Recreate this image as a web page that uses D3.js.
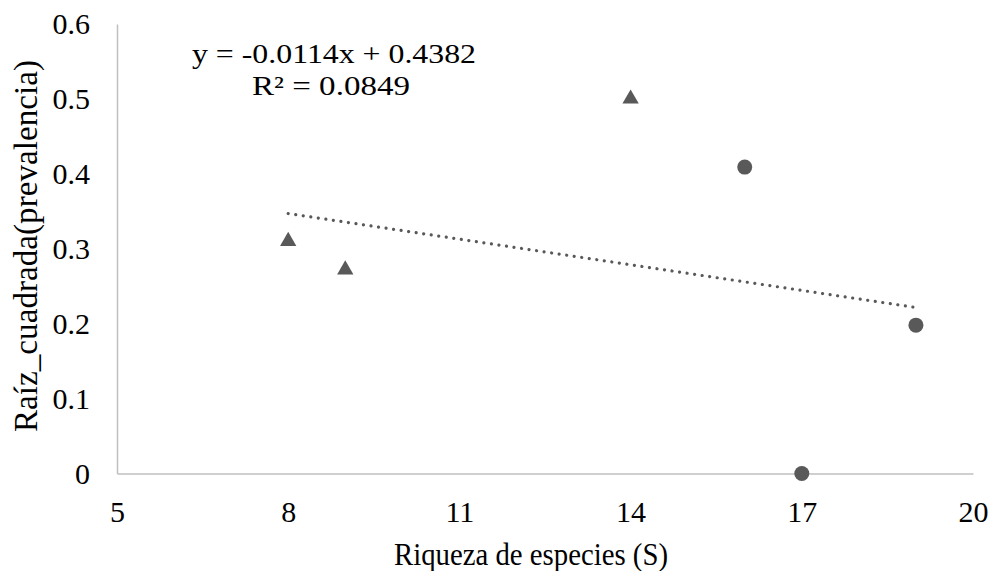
<!DOCTYPE html>
<html><head><meta charset="utf-8">
<script src="https://cdn.jsdelivr.net/npm/d3@7"></script>
<style>body{margin:0;background:#fff;} text{font-family:"Liberation Serif","Times New Roman",serif;fill:#000;}</style>
</head><body>
<svg id="c" width="991" height="571"></svg>
<script>
const triX = [8, 9, 14];
const triY = [0.31, 0.272, 0.50];
const cirX = [16, 17, 19];
const cirY = [0.409, 0.0, 0.198];
const xTicks = [5, 8, 11, 14, 17, 20];
const yTicks = [0, 0.1, 0.2, 0.3, 0.4, 0.5, 0.6];
const slope = -0.0114, intercept = 0.4382;
const trendX = [8, 19];
const eqLines = ["y = -0.0114x + 0.4382", "R² = 0.0849"];
const xTitle = "Riqueza de especies (S)";
const yTitle = "Raíz_cuadrada(prevalencia)";

const svg = d3.select("#c");
const x = d3.scaleLinear().domain([5, 20]).range([117, 973]);
const y = d3.scaleLinear().domain([0, 0.6]).range([473.5, 24]);
const fs = 30;

// axes
const xAxis = svg.append("g").attr("transform", `translate(0,${y(0)})`)
  .call(d3.axisBottom(x).tickValues(xTicks).tickSize(0).tickPadding(38).tickFormat(d3.format("d")));
const yAxis = svg.append("g").attr("transform", `translate(${x(5)},0)`)
  .call(d3.axisLeft(y).tickValues(yTicks).tickSize(0).tickPadding(27).tickFormat(d => d === 0 ? "0" : d3.format(".1f")(d)));
[xAxis, yAxis].forEach(g => {
  g.select(".domain").attr("stroke", "#bfbfbf").attr("stroke-width", 1.5);
  g.selectAll("text").style("font-family", '"Liberation Serif",serif').style("font-size", fs + "px").attr("fill", "#000");
});
xAxis.selectAll("text").attr("dy", "0.35em");

// trendline
svg.append("path")
  .attr("d", d3.line().x(d => x(d)).y(d => y(slope * d + intercept))(trendX))
  .attr("fill", "none").attr("stroke", "#595959").attr("stroke-width", 3.2)
  .attr("stroke-linecap", "round").attr("stroke-dasharray", "0.01 7.6");

// markers
const tri = d3.symbol().type(d3.symbolTriangle).size(115);
svg.selectAll(".tri").data(triX.map((v, i) => [v, triY[i]])).join("path")
  .attr("transform", d => `translate(${x(d[0])},${y(d[1])})`)
  .attr("d", tri).attr("fill", "#595959");
svg.selectAll(".cir").data(cirX.map((v, i) => [v, cirY[i]])).join("circle")
  .attr("cx", d => x(d[0])).attr("cy", d => y(d[1])).attr("r", 7.5).attr("fill", "#595959");

// equation
svg.append("text").attr("x", 192).attr("y", 63).style("font-size", "27px")
  .attr("textLength", 284).attr("lengthAdjust", "spacingAndGlyphs").text(eqLines[0]);
svg.append("text").attr("x", 252).attr("y", 95).style("font-size", "27px")
  .attr("textLength", 158).attr("lengthAdjust", "spacingAndGlyphs").text(eqLines[1]);

// titles
svg.append("text").attr("x", 394).attr("y", 565).style("font-size", "31px")
  .attr("textLength", 274).attr("lengthAdjust", "spacingAndGlyphs").text(xTitle);
svg.append("text").attr("transform", "translate(37,432) rotate(-90)").style("font-size", "33px")
  .attr("textLength", 372).attr("lengthAdjust", "spacingAndGlyphs").text(yTitle);
</script>
</body></html>
